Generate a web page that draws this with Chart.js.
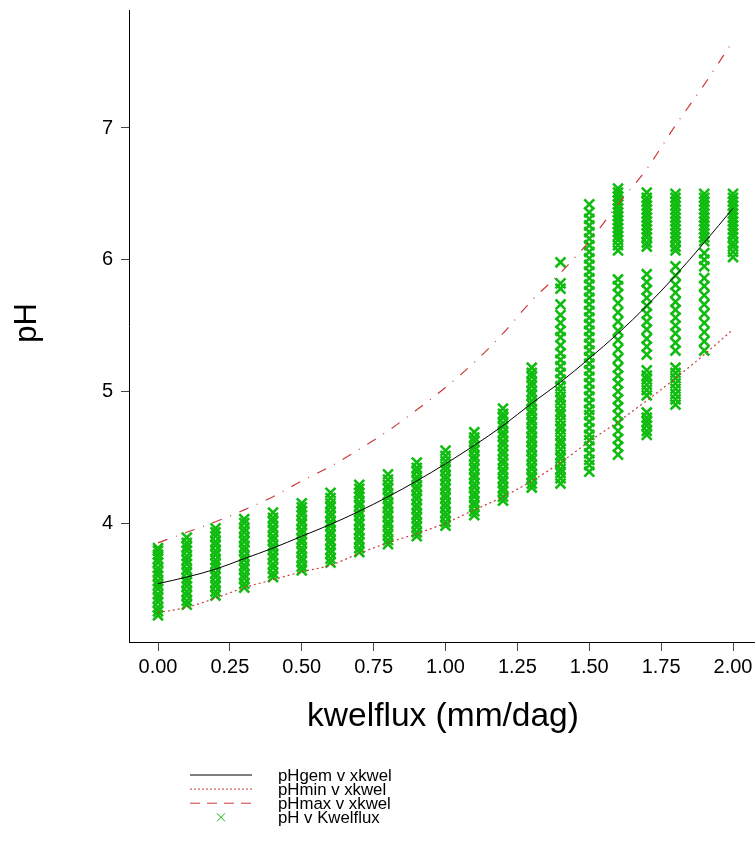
<!DOCTYPE html>
<html><head><meta charset="utf-8">
<script src="https://cdn.jsdelivr.net/npm/chart.js@4.4.1/dist/chart.umd.min.js"></script>
<style>html,body{margin:0;padding:0;background:#fff;}canvas{display:block;}</style>
</head><body>
<canvas id="c" width="755" height="862"></canvas>
<script>
// ---- data ----
const kwelGrid = [0.0,0.1,0.2,0.3,0.4,0.5,0.6,0.7,0.8,0.9,1.0,1.1,1.2,1.3,1.4,1.5,1.6,1.7,1.8,1.9,2.0];
const pHgem = [3.54,3.59,3.65,3.73,3.81,3.90,3.99,4.09,4.20,4.32,4.45,4.59,4.74,4.91,5.07,5.25,5.44,5.65,5.88,6.13,6.39];
const pHmin = [3.32,3.36,3.43,3.51,3.57,3.63,3.68,3.77,3.85,3.92,4.00,4.10,4.20,4.32,4.46,4.62,4.77,4.93,5.10,5.28,5.47];
const pHmax = [3.85,3.93,4.01,4.10,4.20,4.32,4.43,4.56,4.70,4.86,5.03,5.22,5.44,5.69,5.90,6.14,6.42,6.69,7.02,7.33,7.66];

const kwelObs = [0.0,0.1,0.2,0.3,0.4,0.5,0.6,0.7,0.8,0.9,1.0,1.1,1.2,1.3,1.4,1.5,1.6,1.7,1.8,1.9,2.0];
const pHobs = [
  [3.30,3.33,3.36,3.40,3.43,3.46,3.50,3.53,3.56,3.60,3.63,3.66,3.70,3.73,3.76,3.79,3.81],
  [3.38,3.41,3.45,3.48,3.52,3.55,3.58,3.62,3.65,3.69,3.72,3.75,3.79,3.82,3.85,3.89],
  [3.45,3.48,3.52,3.55,3.59,3.62,3.66,3.69,3.72,3.76,3.79,3.83,3.86,3.90,3.93,3.96],
  [3.51,3.54,3.58,3.61,3.65,3.68,3.72,3.75,3.79,3.82,3.86,3.89,3.93,3.96,4.00,4.03],
  [3.59,3.62,3.66,3.69,3.73,3.76,3.80,3.83,3.87,3.90,3.94,3.97,4.01,4.04,4.08],
  [3.64,3.67,3.71,3.74,3.78,3.81,3.85,3.88,3.92,3.95,3.99,4.02,4.06,4.09,4.12,4.15],
  [3.70,3.73,3.77,3.80,3.84,3.87,3.91,3.94,3.98,4.01,4.05,4.08,4.12,4.15,4.19,4.23],
  [3.78,3.81,3.85,3.88,3.92,3.95,3.99,4.02,4.06,4.09,4.13,4.16,4.20,4.23,4.26,4.29],
  [3.84,3.87,3.91,3.94,3.98,4.01,4.05,4.08,4.12,4.15,4.19,4.22,4.26,4.29,4.33,4.37],
  [3.90,3.93,3.97,4.00,4.04,4.07,4.11,4.14,4.18,4.21,4.25,4.28,4.32,4.35,4.39,4.42,4.46],
  [3.98,4.01,4.05,4.08,4.12,4.15,4.19,4.22,4.26,4.29,4.33,4.36,4.40,4.43,4.47,4.51,4.55],
  [4.06,4.09,4.13,4.16,4.20,4.23,4.27,4.30,4.34,4.37,4.41,4.44,4.48,4.51,4.55,4.58,4.62,4.65,4.69],
  [4.17,4.20,4.24,4.27,4.31,4.34,4.38,4.41,4.45,4.48,4.52,4.55,4.59,4.62,4.66,4.69,4.73,4.76,4.80,4.83,4.87],
  [4.27,4.30,4.34,4.37,4.41,4.44,4.48,4.51,4.55,4.58,4.62,4.65,4.69,4.72,4.76,4.79,4.83,4.86,4.90,4.93,4.97,5.00,5.04,5.07,5.11,5.14,5.18],
  [4.30,4.34,4.38,4.41,4.45,4.49,4.52,4.56,4.60,4.63,4.67,4.71,4.74,4.78,4.82,4.85,4.89,4.93,4.96,5.00,5.04,5.09,5.14,5.19,5.24,5.29,5.35,5.41,5.46,5.52,5.58,5.66,5.78,5.82,5.98],
  [4.39,4.44,4.48,4.53,4.58,4.63,4.67,4.72,4.77,4.82,4.86,4.91,4.96,5.01,5.06,5.11,5.16,5.21,5.26,5.31,5.36,5.41,5.46,5.51,5.56,5.61,5.66,5.71,5.76,5.81,5.86,5.91,5.96,6.01,6.06,6.11,6.16,6.21,6.26,6.31,6.36,6.42],
  [4.52,4.58,4.64,4.70,4.76,4.82,4.88,4.94,5.00,5.06,5.12,5.18,5.25,5.32,5.39,5.46,5.53,5.60,5.67,5.74,5.80,5.85,6.07,6.11,6.15,6.18,6.21,6.24,6.27,6.30,6.33,6.36,6.39,6.42,6.45,6.48,6.51,6.54],
  [4.67,4.70,4.74,4.77,4.80,4.84,4.97,5.01,5.05,5.09,5.12,5.16,5.28,5.34,5.40,5.47,5.53,5.59,5.65,5.71,5.77,5.83,5.89,6.10,6.13,6.17,6.20,6.23,6.26,6.29,6.32,6.35,6.38,6.41,6.44,6.47,6.51],
  [4.90,4.94,4.98,5.02,5.06,5.10,5.14,5.18,5.31,5.37,5.44,5.50,5.56,5.62,5.68,5.75,5.81,5.88,5.95,6.07,6.10,6.14,6.17,6.20,6.23,6.26,6.29,6.32,6.35,6.38,6.41,6.44,6.47,6.50],
  [5.31,5.38,5.45,5.52,5.59,5.66,5.73,5.80,5.86,5.95,6.00,6.05,6.14,6.17,6.20,6.23,6.26,6.29,6.32,6.35,6.38,6.41,6.44,6.47,6.50],
  [6.02,6.06,6.10,6.13,6.17,6.20,6.23,6.26,6.29,6.32,6.35,6.38,6.41,6.44,6.47,6.50]
];

const xTickValues = [0,0.25,0.5,0.75,1.0,1.25,1.5,1.75,2.0];
const yTickValues = [4,5,6,7];
const seriesLabels = ['pHgem v xkwel','pHmin v xkwel','pHmax v xkwel','pH v Kwelflux'];
const xTitle = 'kwelflux (mm/dag)';
const yTitle = 'pH';

// ---- build ----
const FONT = "'Liberation Sans', Arial, Helvetica, sans-serif";
const RED = '#cc3a3a';
const GREEN = '#10bc10';
const toXY = (xs, ys) => xs.map((x, i) => ({x: x, y: ys[i]}));
const obsPoints = [];
kwelObs.forEach((k, i) => pHobs[i].forEach(v => obsPoints.push({x: k, y: v})));

const titlesLegend = {
  id: 'titlesLegend',
  afterDraw(chart) {
    const ctx = chart.ctx;
    ctx.save();
    ctx.fillStyle = '#000';
    // x title
    ctx.font = '33.5px ' + FONT;
    ctx.textAlign = 'center';
    ctx.textBaseline = 'alphabetic';
    ctx.fillText(xTitle, 443, 726);
    // y title
    ctx.save();
    ctx.translate(36, 323);
    ctx.rotate(-Math.PI / 2);
    ctx.font = '31px ' + FONT;
    ctx.fillText(yTitle, 0, 0);
    ctx.restore();
    // legend
    ctx.font = '16.8px ' + FONT;
    ctx.textAlign = 'left';
    const ds = chart.data.datasets;
    const c0 = 775, step = 14.1;
    for (let i = 0; i < ds.length; i++) {
      const cy = c0 + i * step;
      ctx.fillStyle = '#000';
      ctx.fillText(ds[i].label, 278, cy + 6);
      const d = ds[i];
      ctx.save();
      ctx.strokeStyle = d.borderColor;
      ctx.lineWidth = 1;
      if (d.showLine !== false) {
        ctx.setLineDash(d.legendDash || []);
        ctx.beginPath();
        ctx.moveTo(190, cy);
        ctx.lineTo(252, cy);
        ctx.stroke();
      } else {
        const r = 4;
        ctx.beginPath();
        ctx.moveTo(221 - r, cy - r); ctx.lineTo(221 + r, cy + r);
        ctx.moveTo(221 - r, cy + r); ctx.lineTo(221 + r, cy - r);
        ctx.stroke();
      }
      ctx.restore();
    }
    ctx.restore();
  }
};

new Chart(document.getElementById('c'), {
  type: 'scatter',
  data: {
    datasets: [
      {label: seriesLabels[0], data: toXY(kwelGrid, pHgem), showLine: true, borderColor: '#000', borderWidth: 1, pointRadius: 0, cubicInterpolationMode: 'monotone', legendDash: []},
      {label: seriesLabels[1], data: toXY(kwelGrid, pHmin), showLine: true, borderColor: RED, borderWidth: 1.2, borderDash: [2, 3], pointRadius: 0, cubicInterpolationMode: 'monotone', legendDash: [2, 2]},
      {label: seriesLabels[2], data: toXY(kwelGrid, pHmax), showLine: true, borderColor: RED, borderWidth: 1.2, borderDash: [10, 9, 1, 9], pointRadius: 0, cubicInterpolationMode: 'monotone', legendDash: [10, 7]},
      {label: seriesLabels[3], data: obsPoints, showLine: false, borderColor: GREEN, backgroundColor: GREEN, pointStyle: 'crossRot', pointRadius: 7, borderWidth: 2.6}
    ]
  },
  options: {
    responsive: false,
    animation: false,
    events: [],
    layout: {autoPadding: false, padding: {top: 10, right: 0, left: 0, bottom: 0}},
    plugins: {legend: {display: false}, tooltip: {enabled: false}, title: {display: false}},
    scales: {
      x: {
        type: 'linear', min: -0.1009, max: 2.0765,
        afterBuildTicks: s => { s.ticks = xTickValues.map(v => ({value: v})); },
        afterFit: s => { s.height = 220; s.paddingLeft = 0; s.paddingRight = 0; },
        grid: {drawOnChartArea: false, drawTicks: true, tickLength: 9, color: '#444'},
        border: {display: true, color: '#000', width: 1},
        ticks: {font: {family: FONT, size: 20}, color: '#000', padding: 4, maxRotation: 0, autoSkip: false, callback: v => Number(v).toFixed(2)}
      },
      y: {
        type: 'linear', min: 3.097, max: 7.896,
        afterBuildTicks: s => { s.ticks = yTickValues.map(v => ({value: v})); },
        afterFit: s => { s.width = 129; s.paddingTop = 0; s.paddingBottom = 0; },
        grid: {drawOnChartArea: false, drawTicks: true, tickLength: 8, color: '#444'},
        border: {display: true, color: '#000', width: 1},
        ticks: {font: {family: FONT, size: 20}, color: '#000', padding: 8, autoSkip: false, callback: v => String(v)}
      }
    }
  },
  plugins: [titlesLegend]
});
</script>
</body></html>
